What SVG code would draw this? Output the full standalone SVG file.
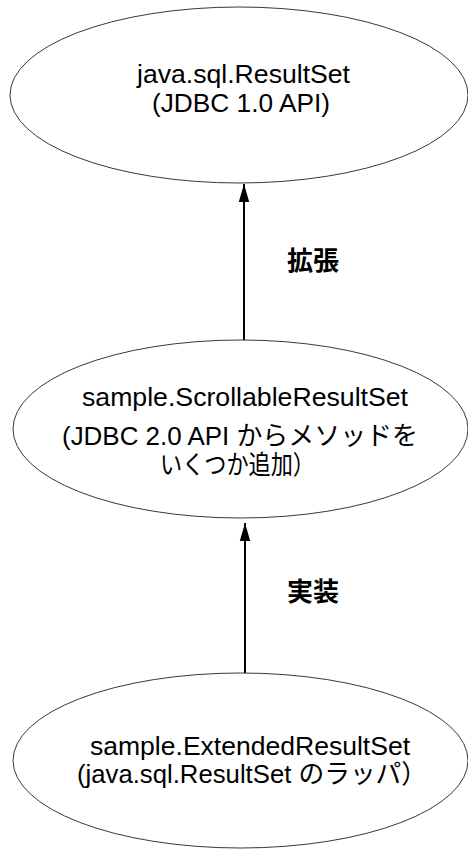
<svg xmlns="http://www.w3.org/2000/svg" width="468" height="850" viewBox="0 0 468 850">
<defs>
<style>
.node ellipse{fill:#fff;stroke:#222;stroke-width:0.9}
.t{font-family:"Liberation Sans","Noto Sans CJK JP",sans-serif;font-size:26px;fill:#000}
.lbl{font-family:"Liberation Sans","Noto Sans CJK JP",sans-serif;font-size:26px;font-weight:bold;fill:#000}
.edge line{stroke:#000;stroke-width:2}
</style>
<marker id="ah" markerWidth="18" markerHeight="31" refX="31" refY="9" orient="auto" markerUnits="userSpaceOnUse" viewBox="0 0 31 18">
<path d="M0,0 L31,9 L0,18 Z" fill="#000"/>
</marker>
</defs>
<rect width="468" height="850" fill="#fff"/>
<g id="connectors" class="edge">
<line x1="244" y1="340" x2="244" y2="184" marker-end="url(#ah)"/>
<line x1="245" y1="673" x2="245" y2="523" marker-end="url(#ah)"/>
<text class="lbl" x="287" y="270" textLength="52" lengthAdjust="spacingAndGlyphs">拡張</text>
<text class="lbl" x="287" y="601" textLength="52" lengthAdjust="spacingAndGlyphs">実装</text>
</g>
<g id="node-resultset" class="node">
<ellipse cx="239" cy="95" rx="229" ry="88"/>
<text class="t" x="137" y="83" textLength="213" lengthAdjust="spacingAndGlyphs">java.sql.ResultSet</text>
<text class="t" x="152" y="112" textLength="178" lengthAdjust="spacingAndGlyphs">(JDBC 1.0 API)</text>
</g>
<g id="node-scrollable" class="node">
<ellipse cx="240.5" cy="429" rx="227.5" ry="89"/>
<text class="t" x="82" y="406" textLength="326" lengthAdjust="spacingAndGlyphs">sample.ScrollableResultSet</text>
<text class="t" x="62" y="445" textLength="356" lengthAdjust="spacingAndGlyphs">(JDBC 2.0 API からメソッドを</text>
<text class="t" x="160" y="474" textLength="155" lengthAdjust="spacingAndGlyphs">いくつか追加）</text>
</g>
<g id="node-extended" class="node">
<ellipse cx="240.5" cy="760.5" rx="227.5" ry="87.5"/>
<text class="t" x="90" y="755" textLength="320" lengthAdjust="spacingAndGlyphs">sample.ExtendedResultSet</text>
<text class="t" x="77" y="783" textLength="350" lengthAdjust="spacingAndGlyphs">(java.sql.ResultSet のラッパ）</text>
</g>
</svg>
